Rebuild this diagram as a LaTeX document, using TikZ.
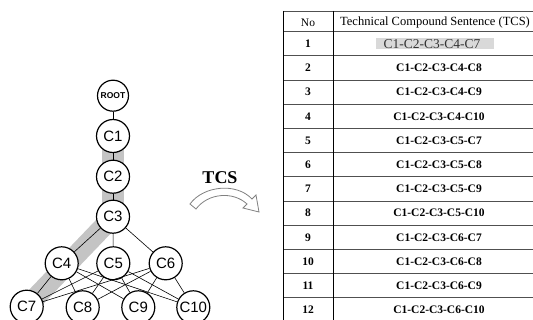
\documentclass[tikz,border=0pt]{standalone}
\usepackage{fontspec}
\setmainfont{Liberation Serif}
\setsansfont{Liberation Sans}
\definecolor{bandgray}{HTML}{C4C4C4}
\definecolor{hlgray}{HTML}{D9D9D9}
\definecolor{arrowgray}{HTML}{808080}
\definecolor{rulegray}{HTML}{505050}
\begin{document}
\begin{tikzpicture}[x=1pt,y=-1pt,
  cnode/.style={circle,draw,line width=1.2pt,fill=white,minimum size=33pt,inner sep=0pt,
    font=\sffamily\fontsize{15}{15}\selectfont},
  rootnode/.style={cnode,minimum size=31pt,font=\sffamily\bfseries\fontsize{8.5}{8.5}\selectfont},
  edge/.style={line width=0.6pt},
  band/.style={line width=22pt,bandgray},
  hrule/.style={line width=0.8pt,rulegray},
  vrule/.style={line width=1pt,black},
  numcell/.style={font=\bfseries\fontsize{11.5}{11.5}\selectfont,inner sep=0pt},
  tcscell/.style={font=\bfseries\fontsize{11.5}{11.5}\selectfont,inner sep=0pt},
  headcell/.style={font=\fontsize{11.5}{11.5}\selectfont,inner sep=0pt},
  arrowline/.style={line width=0.8pt,arrowgray,fill=white}]
\useasboundingbox (0,0) rectangle (533,320);
% nodes positions
\coordinate (pROOT) at (113,95.7);
\coordinate (p1) at (113,136);
\coordinate (p2) at (113,176.7);
\coordinate (p3) at (113,216.7);
\coordinate (p4) at (61.7,263.3);
\coordinate (p5) at (113.3,263.3);
\coordinate (p6) at (165.7,263.3);
\coordinate (p7) at (26.7,306.7);
\coordinate (p8) at (82.7,307.3);
\coordinate (p9) at (138.3,307.3);
\coordinate (p10) at (193.3,307.3);
% gray bands
\draw[band] (p1) -- (p3);
\draw[band,line width=20pt] (p3) -- (p7);
% nodes
\node[rootnode] (root) at (pROOT) {ROOT};
\node[cnode] (c1) at (p1) {C1};
\node[cnode] (c2) at (p2) {C2};
\node[cnode] (c3) at (p3) {C3};
\node[cnode] (c4) at (p4) {C4};
\node[cnode] (c5) at (p5) {C5};
\node[cnode] (c6) at (p6) {C6};
\node[cnode] (c7) at (p7) {C7};
\node[cnode] (c8) at (p8) {C8};
\node[cnode] (c9) at (p9) {C9};
\node[cnode] (c10) at (p10) {C10};
% edges
\draw[edge] (root) -- (c1);
\draw[edge] (c1) -- (c2);
\draw[edge] (c2) -- (c3);
\foreach \m in {c4,c5,c6}{\draw[edge] (c3) -- (\m);}
\foreach \m in {c4,c5,c6}{\foreach \n in {c7,c8,c9,c10}{\draw[edge] (\m) -- (\n);}}
% TCS arrow
\node[font=\bfseries\fontsize{18}{18}\selectfont,inner sep=0pt] (tcs) at (220,177.5) {TCS};
\draw[arrowline] (190,204) .. controls (203,186) and (236,182) .. (252,199) -- (256,195) -- (259,212) -- (243,208) -- (247,204) .. controls (233,191) and (208,193) .. (196,209) -- cycle;
% table
\fill[hlgray] (376,38) rectangle (494,49);
\draw[hrule] (283,11) -- (533,11);
\foreach \k in {0,...,11}{\draw[hrule] (283,31.7+24.2*\k) -- (533,31.7+24.2*\k);}
\draw[vrule] (283,11) -- (283,320);
\draw[vrule] (333,11) -- (333,320);
\node[headcell] (hno) at (308,22.3) {No};
\node[headcell,font=\fontsize{12.5}{12.5}\selectfont] (htcs) at (435,22.3) {Technical Compound Sentence (TCS)};
\foreach \k in {1,...,12}{\node[numcell] (n\k) at (308,31.7+24.2*\k-12.1) {\k};}
\node[inner sep=0pt,font=\fontsize{13.5}{13.5}\selectfont,text=black!80] (r1) at (432,43.8) {C1-C2-C3-C4-C7};
\foreach \k/\t in {2/C4-C8,3/C4-C9,4/C4-C10,5/C5-C7,6/C5-C8,7/C5-C9,8/C5-C10,9/C6-C7,10/C6-C8,11/C6-C9,12/C6-C10}{
  \node[tcscell] (r\k) at (439,31.7+24.2*\k-12.1) {C1-C2-C3-\t};}
\end{tikzpicture}
\end{document}
